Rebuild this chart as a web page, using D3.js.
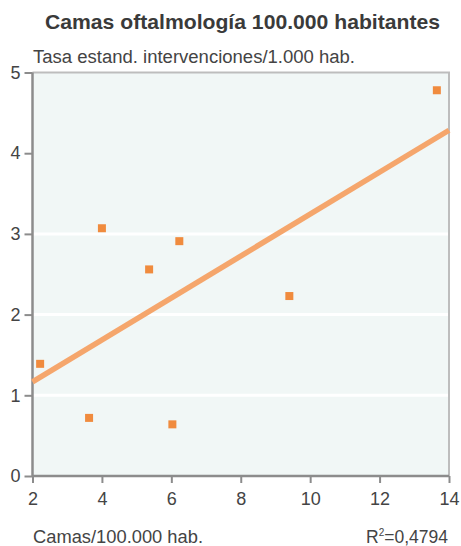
<!DOCTYPE html>
<html><head><meta charset="utf-8">
<script src="https://cdn.jsdelivr.net/npm/d3@7"></script>
<style>body{margin:0;background:#fff;} svg{display:block;}</style>
</head><body>
<svg id="c" width="461" height="546"></svg>
<script>
const xValues = [2.22, 4.0, 3.63, 6.23, 5.36, 6.03, 9.40, 13.65];
const yValues = [1.39, 3.07, 0.72, 2.91, 2.56, 0.64, 2.23, 4.78];
const xTicks = [2, 4, 6, 8, 10, 12, 14];
const yTicks = [0, 1, 2, 3, 4, 5];
const title = "Camas oftalmología 100.000 habitantes";
const yLabel = "Tasa estand. intervenciones/1.000 hab.";
const xLabel = "Camas/100.000 hab.";
const r2Label = "0,4794";

const svg = d3.select("#c");
const L = 32.5, R = 449, T = 72.5, B = 476;
const x = d3.scaleLinear().domain([2, 14]).range([L, R]);
const y = d3.scaleLinear().domain([0, 5]).range([B, T]);
const font = "Liberation Sans, Arial, sans-serif";
const txt = "#444";

svg.append("text").attr("x", 45).attr("y", 29)
  .attr("textLength", 395).attr("lengthAdjust", "spacingAndGlyphs")
  .attr("font-family", font).attr("font-size", 20.5).attr("font-weight", "bold").attr("fill", "#3a3a3a").text(title);
svg.append("text").attr("x", 33).attr("y", 63)
  .attr("textLength", 322).attr("lengthAdjust", "spacingAndGlyphs")
  .attr("font-family", font).attr("font-size", 18).attr("fill", txt).text(yLabel);

// plot background
svg.append("rect").attr("x", L).attr("y", T).attr("width", R - L).attr("height", B - T).attr("fill", "#f1f7f6");
// faint white grid lines
svg.append("g").selectAll("line").data([1, 2, 3]).join("line")
  .attr("x1", L).attr("x2", R).attr("y1", d => y(d)).attr("y2", d => y(d))
  .attr("stroke", "#ffffff").attr("stroke-width", 3);
// top/right border
svg.append("path").attr("d", `M${L},${T}H${R}V${B}`).attr("fill", "none").attr("stroke", "#bdbdbd").attr("stroke-width", 2);

// axes
const yAxis = d3.axisLeft(y).tickValues(yTicks).tickSize(8).tickPadding(4).tickFormat(d3.format("d"));
const gy = svg.append("g").attr("transform", `translate(${L},0)`).call(yAxis);
const xAxis = d3.axisBottom(x).tickValues(xTicks).tickSize(7).tickPadding(9).tickFormat(d3.format("d"));
const gx = svg.append("g").attr("transform", `translate(0,${B})`).call(xAxis);
[gx, gy].forEach(g => {
  g.select(".domain").attr("stroke", "#8c8c8c").attr("stroke-width", 2.5);
  g.selectAll(".tick line").attr("stroke", "#8c8c8c").attr("stroke-width", 2);
  g.selectAll(".tick text").attr("font-family", font).attr("font-size", 18).attr("fill", txt);
});
gx.select(".domain").attr("d", `M${L},0H${R}`);
gy.select(".domain").attr("d", `M0,${B}V${T}`);

// regression line from data
const n = xValues.length;
const mx = d3.mean(xValues), my = d3.mean(yValues);
let sxy = 0, sxx = 0;
for (let i = 0; i < n; i++) { sxy += (xValues[i] - mx) * (yValues[i] - my); sxx += (xValues[i] - mx) ** 2; }
const slope = sxy / sxx, icpt = my - slope * mx;
svg.append("line").attr("x1", x(2)).attr("y1", y(icpt + slope * 2))
  .attr("x2", x(14)).attr("y2", y(icpt + slope * 14))
  .attr("stroke", "#f5a66c").attr("stroke-width", 5.5);

// points
const s = 8;
svg.append("g").selectAll("rect").data(xValues.map((v, i) => [v, yValues[i]])).join("rect")
  .attr("x", d => x(d[0]) - s / 2).attr("y", d => y(d[1]) - s / 2)
  .attr("width", s).attr("height", s).attr("fill", "#f08b3e");

svg.append("text").attr("x", 33).attr("y", 543)
  .attr("textLength", 170).attr("lengthAdjust", "spacingAndGlyphs")
  .attr("font-family", font).attr("font-size", 17.5).attr("fill", txt).text(xLabel);
const rt = svg.append("text").attr("x", 448).attr("y", 543).attr("text-anchor", "end").attr("font-family", font).attr("font-size", 17.5).attr("fill", txt);
rt.append("tspan").text("R");
rt.append("tspan").attr("dy", -7).attr("font-size", 10).text("2");
rt.append("tspan").attr("dy", 7).text("=" + r2Label);
</script>
</body></html>
